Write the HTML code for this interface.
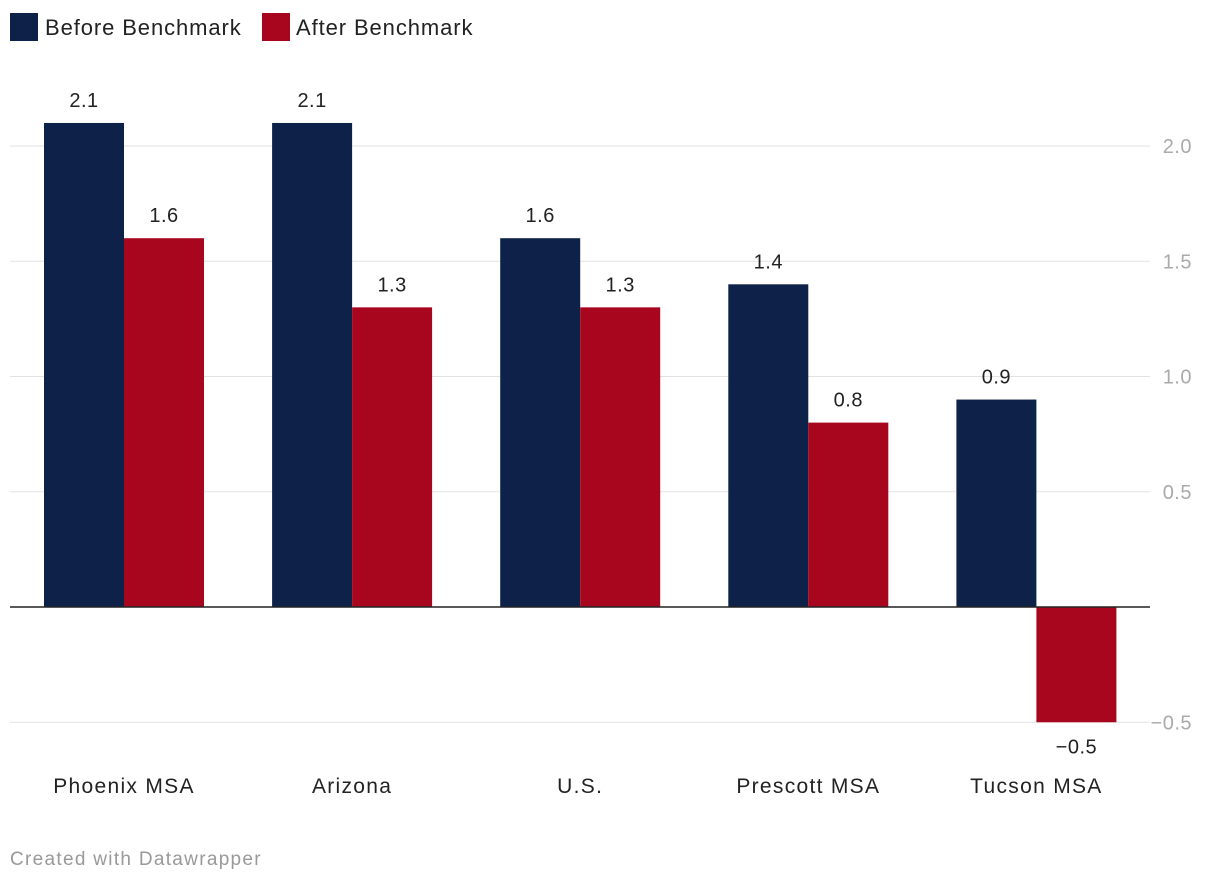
<!DOCTYPE html>
<html><head><meta charset="utf-8"><style>
body{margin:0;background:#fff;font-family:"Liberation Sans",sans-serif;}
svg{display:block}
</style></head><body>
<svg id="chart" width="1220" height="882" viewBox="0 0 1220 882">
<g>
<rect x="10" y="13" width="28" height="28" fill="#0e2249"/>
<text x="45" y="35" font-size="22" letter-spacing="0.9" fill="#222">Before Benchmark</text>
<rect x="262" y="13" width="28" height="28" fill="#a8061f"/>
<text x="296" y="35" font-size="22" letter-spacing="0.9" fill="#222">After Benchmark</text>
</g>
<g id="grid"></g>
<g id="bars"></g>
<text x="10" y="865" font-size="19" letter-spacing="1.3" fill="#999">Created with Datawrapper</text>
</svg>
<script>
const categories=["Phoenix MSA","Arizona","U.S.","Prescott MSA","Tucson MSA"];
const beforeValues=[2.1,2.1,1.6,1.4,0.9];
const afterValues=[1.6,1.3,1.3,0.8,-0.5];
const tickValues=[2.0,1.5,1.0,0.5,-0.5];
const tickLabels=["2.0","1.5","1.0","0.5","\u22120.5"];
const NS="http://www.w3.org/2000/svg";
const y=v=>607-v*230.5;
const gx=i=>124+i*228.1;
const bw=80;
function el(t,a,p){const e=document.createElementNS(NS,t);for(const k in a)e.setAttribute(k,a[k]);p.appendChild(e);return e;}
const grid=document.getElementById('grid'),bars=document.getElementById('bars');
tickValues.forEach((v,i)=>{
 const l=el('line',{x1:10,x2:1150,y1:y(v),y2:y(v),stroke:'#e2e2e2','stroke-width':1},grid);
 
 
 const t=el('text',{x:1192,y:y(v)+7,'font-size':20,'letter-spacing':0.5,fill:'#aaa','text-anchor':'end'},grid);
 t.textContent=tickLabels[i];
 
 
});
const fmt=v=>v<0?'\u2212'+Math.abs(v).toFixed(1):v.toFixed(1);
function bar(v,x,color,name){
 const r=el('rect',{x:x,width:bw,y:Math.min(y(v),y(0)),height:Math.abs(y(v)-y(0)),fill:color},bars);
 
 
 const t=el('text',{x:x+bw/2,y:v>=0?y(v)-16:y(v)+31,'font-size':20,'letter-spacing':0.5,fill:'#222','text-anchor':'middle'},bars);
 t.textContent=fmt(v);
 
 
}
categories.forEach((c,i)=>{
 bar(beforeValues[i],gx(i)-bw,'#0e2249','bar-before');
 bar(afterValues[i],gx(i),'#a8061f','bar-after');
 const t=el('text',{x:gx(i),y:793,'font-size':21,'letter-spacing':1.3,fill:'#222','text-anchor':'middle'},bars);
 t.textContent=c;
 
 
});
const z=el('line',{x1:10,x2:1150,y1:y(0),y2:y(0),stroke:'#222','stroke-width':1.5},bars);


</script>
</body></html>
